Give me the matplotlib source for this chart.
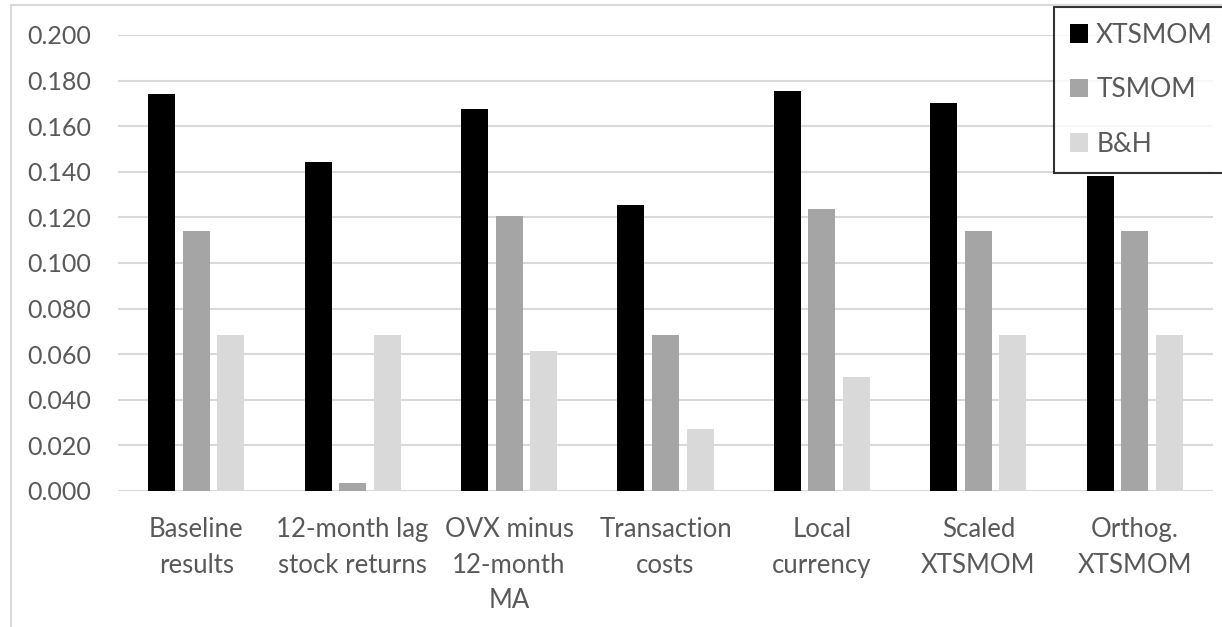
import matplotlib
matplotlib.use("Agg")
import matplotlib.pyplot as plt
import numpy as np
from matplotlib.lines import Line2D

categories = ["Baseline\nresults", "12-month lag\nstock returns", "OVX minus\n12-month\nMA",
              "Transaction\ncosts", "Local\ncurrency", "Scaled\nXTSMOM", "Orthog.\nXTSMOM"]
xtsmom = [0.1743, 0.1444, 0.1675, 0.1254, 0.1754, 0.1700, 0.1383]
tsmom = [0.1140, 0.0034, 0.1205, 0.0686, 0.1237, 0.1140, 0.1140]
bh = [0.0686, 0.0686, 0.0615, 0.0270, 0.0500, 0.0686, 0.0686]
series_names = ["XTSMOM", "TSMOM", "B&H"]
colors = ["#000000", "#A5A5A5", "#D9D9D9"]
yticks = [0.0, 0.02, 0.04, 0.06, 0.08, 0.10, 0.12, 0.14, 0.16, 0.18, 0.20]

plt.rcParams['font.family'] = ['Lato', 'DejaVu Sans']
W, H = 1222, 627
fig = plt.figure(figsize=(W / 100, H / 100), dpi=100)
ax = fig.add_axes([118 / W, 1 - 491 / H, 1095 / W, (491 - 35) / H])

x = np.arange(len(categories))
step = 0.2206
width = 0.1726
for i, (vals, c, name) in enumerate(zip([xtsmom, tsmom, bh], colors, series_names)):
    ax.bar(x + (i - 1) * step, vals, width, color=c, label=name, zorder=3)

ax.set_xlim(-0.5, len(categories) - 0.5)
ax.set_ylim(0, 0.2)
ax.set_yticks(yticks)
ax.set_yticklabels([f"{v:.3f}" for v in yticks], fontsize=18)
ax.set_xticks(x)
ax.set_xticklabels(categories, linespacing=1.52, fontsize=18.5)
ax.grid(axis='y', color='#D9D9D9', linewidth=1.5, zorder=0)
for s in ax.spines.values():
    s.set_visible(False)
ax.tick_params(axis='both', length=0, colors='#595959')
ax.tick_params(axis='y', pad=19)
ax.tick_params(axis='x', pad=19)

# chart area border (partially cropped)
fig.add_artist(Line2D([11 / W, 11 / W], [0, 1 - 5 / H], color='#D9D9D9', linewidth=1.5))
fig.add_artist(Line2D([11 / W, 1], [1 - 5 / H, 1 - 5 / H], color='#D9D9D9', linewidth=1.5))

leg = ax.legend(loc='upper left', bbox_to_anchor=(1054 / W, 1 - 7 / H), bbox_transform=fig.transFigure,
                frameon=True, fancybox=False, edgecolor='black', fontsize=19,
                handlelength=0.7, handleheight=0.7, handletextpad=0.3,
                labelspacing=1.12, borderpad=0.6, borderaxespad=0)
leg.get_frame().set_linewidth(1.5)
for t in leg.get_texts():
    t.set_color('#595959')

fig.savefig("out.png", dpi=100)
